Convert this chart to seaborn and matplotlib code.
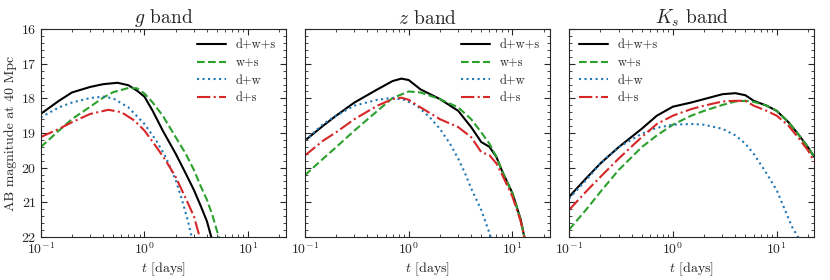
import matplotlib
matplotlib.use("Agg")
import matplotlib.pyplot as plt
import matplotlib.ticker as mticker
import seaborn as sns

# Light curves: time in days, AB magnitude at 40 Mpc
# g band
g_dws_t = [0.1, 0.15, 0.2, 0.3, 0.4, 0.55, 0.7, 0.85, 1.0, 1.2, 1.5, 2.0, 2.5, 3.0, 3.5, 4.0, 4.4, 4.8]
g_dws_m = [18.45, 18.07, 17.83, 17.67, 17.59, 17.55, 17.62, 17.78, 17.95, 18.36, 18.93, 19.6, 20.17, 20.65, 21.12, 21.55, 22.0, 22.4]
g_ws_t = [0.1, 0.15, 0.2, 0.3, 0.4, 0.5, 0.7, 0.85, 1.0, 1.2, 1.5, 2.0, 2.5, 3.0, 3.5, 4.0, 4.5, 5.2, 5.8]
g_ws_m = [19.41, 18.93, 18.6, 18.24, 17.98, 17.82, 17.7, 17.71, 17.86, 18.12, 18.5, 19.12, 19.6, 20.07, 20.55, 20.93, 21.36, 22.0, 22.5]
g_dw_t = [0.1, 0.15, 0.2, 0.3, 0.4, 0.5, 0.7, 1.0, 1.3, 1.6, 2.0, 2.3, 2.6, 2.85, 3.1]
g_dw_m = [18.55, 18.26, 18.12, 17.99, 17.95, 18.0, 18.26, 18.74, 19.22, 19.69, 20.36, 20.93, 21.5, 22.0, 22.4]
g_ds_t = [0.1, 0.15, 0.2, 0.3, 0.45, 0.6, 0.8, 1.0, 1.3, 1.6, 2.0, 2.5, 3.0, 3.4, 3.7]
g_ds_m = [19.12, 18.88, 18.69, 18.45, 18.33, 18.4, 18.64, 18.93, 19.4, 19.79, 20.27, 20.89, 21.41, 22.0, 22.4]

# z band
z_dws_t = [0.1, 0.15, 0.2, 0.3, 0.5, 0.7, 0.85, 1.0, 1.3, 2.0, 3.0, 4.0, 5.0, 6.0, 7.0, 8.0, 10.0, 12.0, 13.0, 14.0]
z_dws_m = [19.22, 18.79, 18.5, 18.12, 17.74, 17.5, 17.43, 17.47, 17.74, 18.02, 18.36, 18.83, 19.26, 19.4, 19.69, 20.12, 20.74, 21.5, 22.0, 22.4]
z_ws_t = [0.1, 0.15, 0.2, 0.3, 0.5, 0.7, 1.0, 1.3, 2.0, 3.0, 4.0, 5.0, 6.0, 7.0, 8.0, 10.0, 12.0, 13.0, 14.0]
z_ws_m = [20.22, 19.74, 19.41, 18.93, 18.36, 17.99, 17.8, 17.83, 18.02, 18.26, 18.6, 18.98, 19.31, 19.69, 20.12, 20.74, 21.5, 22.0, 22.4]
z_dw_t = [0.1, 0.15, 0.2, 0.3, 0.5, 0.7, 0.9, 1.2, 1.6, 2.0, 2.5, 3.0, 3.5, 4.0, 5.0, 6.0, 6.5]
z_dw_m = [19.22, 18.74, 18.5, 18.21, 18.04, 17.99, 18.04, 18.21, 18.55, 18.88, 19.31, 19.74, 20.17, 20.6, 21.22, 21.89, 22.2]
z_ds_t = [0.1, 0.15, 0.2, 0.3, 0.5, 0.7, 0.85, 1.0, 1.3, 2.0, 3.0, 4.0, 5.0, 6.0, 7.0, 8.0, 10.0, 12.0, 13.0, 14.0]
z_ds_m = [19.65, 19.22, 18.98, 18.6, 18.21, 18.02, 17.98, 18.04, 18.26, 18.6, 18.83, 19.12, 19.55, 19.64, 19.88, 20.22, 20.84, 21.55, 22.0, 22.4]

# Ks band
k_dws_t = [0.1, 0.15, 0.2, 0.3, 0.5, 0.7, 1.0, 1.5, 2.0, 3.0, 4.0, 5.0, 6.0, 8.0, 10.0, 13.0, 16.0, 20.0, 23.0]
k_dws_m = [20.84, 20.27, 19.88, 19.41, 18.88, 18.5, 18.24, 18.12, 18.02, 17.88, 17.85, 17.91, 18.07, 18.21, 18.36, 18.69, 19.02, 19.41, 19.69]
k_ws_t = [0.1, 0.15, 0.2, 0.3, 0.5, 0.7, 1.0, 1.5, 2.0, 3.0, 4.0, 5.0, 6.0, 8.0, 10.0, 13.0, 16.0, 20.0, 23.0]
k_ws_m = [21.79, 21.17, 20.7, 20.07, 19.41, 19.07, 18.76, 18.5, 18.36, 18.19, 18.09, 18.07, 18.1, 18.21, 18.36, 18.69, 19.02, 19.41, 19.69]
k_dw_t = [0.1, 0.15, 0.2, 0.3, 0.5, 0.7, 1.0, 1.5, 2.0, 3.0, 4.0, 5.0, 6.0, 8.0, 10.0, 12.0, 14.0, 16.0, 17.0]
k_dw_m = [20.89, 20.32, 19.88, 19.41, 19.02, 18.85, 18.76, 18.74, 18.76, 18.88, 19.07, 19.31, 19.6, 20.17, 20.65, 21.22, 21.7, 22.0, 22.2]
k_ds_t = [0.1, 0.15, 0.2, 0.3, 0.5, 0.7, 1.0, 1.5, 2.0, 3.0, 4.0, 5.0, 6.0, 8.0, 10.0, 13.0, 16.0, 20.0, 23.0]
k_ds_m = [21.22, 20.65, 20.27, 19.74, 19.12, 18.74, 18.5, 18.31, 18.21, 18.09, 18.07, 18.07, 18.21, 18.36, 18.5, 18.79, 19.12, 19.5, 19.83]

band_titles = ["$g$ band", "$z$ band", "$K_s$ band"]
series_labels = ["d+w+s", "w+s", "d+w", "d+s"]

sns.set_style("ticks")
plt.rcParams["font.family"] = ["cmr10"]
plt.rcParams["mathtext.fontset"] = "cm"
plt.rcParams["axes.formatter.use_mathtext"] = True
plt.rcParams["axes.unicode_minus"] = False

colors = ["black", "#2ca02c", "#1f77b4", "#d62728"]
styles = ["-", "--", ":", "-."]

bands = [
    [(g_dws_t, g_dws_m), (g_ws_t, g_ws_m), (g_dw_t, g_dw_m), (g_ds_t, g_ds_m)],
    [(z_dws_t, z_dws_m), (z_ws_t, z_ws_m), (z_dw_t, z_dw_m), (z_ds_t, z_ds_m)],
    [(k_dws_t, k_dws_m), (k_ws_t, k_ws_m), (k_dw_t, k_dw_m), (k_ds_t, k_ds_m)],
]

fig, axes = plt.subplots(1, 3, figsize=(8.3, 2.8), dpi=100, sharey=True)
fig.subplots_adjust(left=0.049, right=0.981, top=0.896, bottom=0.154, wspace=0.078)

for i, ax in enumerate(axes):
    for j, (t, m) in enumerate(bands[i]):
        sns.lineplot(x=t, y=m, ax=ax, color=colors[j], linestyle=styles[j],
                     linewidth=1.5, label=series_labels[j], sort=False, estimator=None)
    ax.set_xscale("log")
    ax.set_xlim(0.1, 23)
    ax.set_ylim(22, 16)
    ax.yaxis.set_major_locator(mticker.MultipleLocator(1))
    ax.yaxis.set_minor_locator(mticker.MultipleLocator(0.2))
    ax.tick_params(which="both", direction="in", top=True, right=True, labelsize=10, pad=3)
    ax.tick_params(which="major", length=4, width=0.8)
    ax.tick_params(which="minor", length=2, width=0.6)
    for s in ax.spines.values():
        s.set_linewidth(0.8)
    ax.set_title(band_titles[i], fontsize=14, pad=4)
    ax.set_xlabel("$t$ [days]", fontsize=10, labelpad=3)
    loc = "upper left" if i == 2 else "upper right"
    ax.legend(loc=loc, frameon=False, fontsize=9, handlelength=2.3,
              labelspacing=0.45, borderaxespad=0.4)

axes[0].set_ylabel("AB magnitude at 40 Mpc", fontsize=10, labelpad=3)

fig.savefig("out.png", dpi=100)
